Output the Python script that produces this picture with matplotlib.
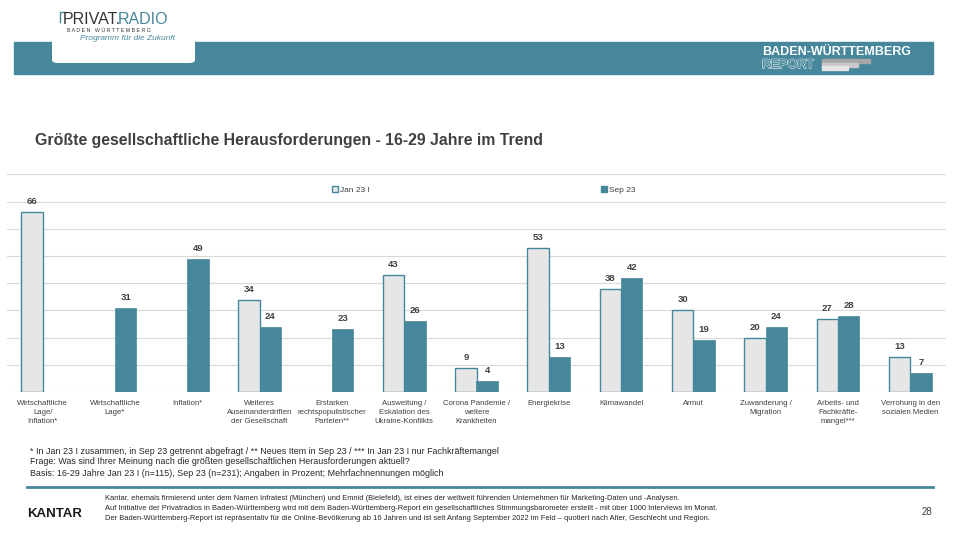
import numpy as np
import matplotlib.pyplot as plt
from matplotlib.patches import Rectangle, FancyBboxPatch
from matplotlib.lines import Line2D
import matplotlib.patheffects as pe

plt.rcParams['font.family'] = ['Liberation Sans', 'DejaVu Sans']

# data
categories = ["Wirtschaftliche\nLage/\nInflation*", "Wirtschaftliche\nLage*", "Inflation*",
              "Weiteres\nAuseinanderdriften\nder Gesellschaft",
              "Erstarken\nrechtspopulistischer\nParteien**",
              "Ausweitung /\nEskalation des\nUkraine-Konflikts",
              "Corona Pandemie /\nweitere\nKrankheiten", "Energiekrise", "Klimawandel", "Armut",
              "Zuwanderung /\nMigration", "Arbeits- und\nFachkräfte-\nmangel***",
              "Verrohung in den\nsozialen Medien"]
jan23 = [66, np.nan, np.nan, 34, np.nan, 43, 9, 53, 38, 30, 20, 27, 13]
sep23 = [np.nan, 31, 49, 24, 23, 26, 4, 13, 42, 19, 24, 28, 7]
series_names = ["Jan 23 I", "Sep 23"]

footnotes = ["* In Jan 23 I zusammen, in Sep 23 getrennt abgefragt / ** Neues Item in Sep 23 / *** In Jan 23 I nur Fachkräftemangel",
             "Frage: Was sind Ihrer Meinung nach die größten gesellschaftlichen Herausforderungen aktuell?",
             "Basis: 16-29 Jahre Jan 23 I (n=115), Sep 23 (n=231); Angaben in Prozent; Mehrfachnennungen möglich"]
footer = ["Kantar, ehemals firmierend unter dem Namen Infratest (München) und Emnid (Bielefeld), ist eines der weltweit führenden Unternehmen für Marketing-Daten und -Analysen.",
          "Auf Initiative der Privatradios in Baden-Württemberg wird mit dem Baden-Württemberg-Report ein gesellschaftliches Stimmungsbarometer erstellt - mit über 1000 Interviews im Monat.",
          "Der Baden-Württemberg-Report ist repräsentativ für die Online-Bevölkerung ab 16 Jahren und ist seit Anfang September 2022 im Feld – quotiert nach Alter, Geschlecht und Region."]

TEAL = '#46879b'
LIGHT = '#e6e6e6'
DARK = '#404040'
W, H = 960, 540

def px(x, y):
    return x / W, 1 - y / H

fig = plt.figure(figsize=(9.6, 5.4), dpi=100)

# header band + logo
fig.patches.append(Rectangle(px(14, 74), 919 / W, 32 / H, transform=fig.transFigure,
                             color=TEAL, zorder=0))
fig.patches.append(FancyBboxPatch(px(52, 63), 143 / W, 70 / H, transform=fig.transFigure,
                                  boxstyle="round,pad=0,rounding_size=0.006",
                                  facecolor='white', edgecolor='none', zorder=1))
fig.add_artist(Line2D([60 / W, 60 / W, 66 / W], [1 - 22 / H, 1 - 12 / H, 1 - 12 / H],
                      color=TEAL, lw=1, transform=fig.transFigure))
t1 = fig.text(*px(63, 19), "PRIVAT.", fontsize=11.5, color='#333333', va='center', zorder=2)
r = fig.canvas.get_renderer()
right = t1.get_window_extent(r).x1
fig.text((right - 3) / W, 1 - 19 / H, "RADIO", fontsize=11.5, color=TEAL, va='center',
         zorder=2)
fig.text(*px(67, 31), "B A D E N   W Ü R T T E M B E R G", fontsize=3.8, color='#333333',
         va='center', zorder=2)
fig.text(*px(80, 39), "Programm für die Zukunft", fontsize=6, color=TEAL, style='italic',
         va='center', zorder=2)
fig.text(*px(762, 52), "BADEN-WÜRTTEMBERG", fontsize=9, color='white', fontweight='bold',
         va='center', zorder=2)
fig.text(*px(762, 65), "REPORT", fontsize=9, color=TEAL, va='center', zorder=2,
         path_effects=[pe.withStroke(linewidth=1.0, foreground='#e8eef0'),
                       pe.Normal()])
for (w, y0, c) in [(48, 59.5, '#a6a6a6'), (36, 63, '#c8c8c8'), (26, 66.5, '#e6e6e6')]:
    fig.patches.append(Rectangle(px(822, y0 + 3.5), w / W, 3.5 / H, transform=fig.transFigure,
                                 color=c, zorder=2))

# title
fig.text(*px(35, 141), "Größte gesellschaftliche Herausforderungen - 16-29 Jahre im Trend",
         fontsize=11.4, fontweight='bold', color=DARK, va='center')

# chart
ax = fig.add_axes([6.5 / W, 1 - 392 / H, 940 / W, 217.6 / H])
x = np.arange(len(categories))
bw = 0.295
bars1 = ax.bar(x - bw / 2, jan23, bw, color=LIGHT, edgecolor=TEAL, linewidth=1.0, zorder=3)
bars2 = ax.bar(x + bw / 2, sep23, bw, color=TEAL, edgecolor=TEAL, linewidth=0.5, zorder=3)
for bars, vals in [(bars1, jan23), (bars2, sep23)]:
    for b, v in zip(bars, vals):
        if np.isnan(v):
            continue
        ax.text(b.get_x() + b.get_width() / 2, v + 2.2, f"{v:.0f}", ha='center',
                va='bottom', fontsize=6.8, fontweight='bold', color=DARK)
ax.set_ylim(0, 80)
ax.set_xlim(-0.5, len(categories) - 0.5)
ax.set_yticks(np.arange(0, 81, 10))
ax.yaxis.grid(True, color='#d9d9d9', linewidth=0.8, zorder=0)
ax.set_yticklabels([])
ax.set_xticks(x)
ax.set_xticklabels(categories, fontsize=5.6, color=DARK, linespacing=1.4)
ax.tick_params(length=0, pad=6)
for s in ax.spines.values():
    s.set_visible(False)

# legend entries placed separately
for name, face, xpos in [(series_names[0], LIGHT, 332), (series_names[1], TEAL, 601)]:
    h = Rectangle((0, 0), 1, 1, facecolor=face, edgecolor=TEAL, linewidth=1)
    lg = fig.legend([h], [name], loc='center left', bbox_to_anchor=px(xpos, 190),
                    frameon=False, fontsize=6, handlelength=0.7, handleheight=0.7,
                    handletextpad=0.3, borderpad=0, borderaxespad=0)
    for tx in lg.get_texts():
        tx.set_color(DARK)

# footnotes
for i, line in enumerate(footnotes):
    fig.text(*px(30, 451 + i * 11), line, fontsize=6.4, color='#262626', va='center')
fig.add_artist(Line2D([27 / W, 933 / W], [1 - 487 / H, 1 - 487 / H], color=TEAL, lw=2,
                      transform=fig.transFigure))

# footer
fig.text(*px(27, 514), "KANTAR", fontsize=9.5, fontweight='bold', color='#1a1a1a', va='center')
for i, line in enumerate(footer):
    fig.text(*px(105, 498 + i * 10.5), line, fontsize=5.45, color='#262626', va='center')
fig.text(*px(932, 512), "28", fontsize=7, color=DARK, ha='right', va='center')

fig.savefig("out.png", dpi=100)
